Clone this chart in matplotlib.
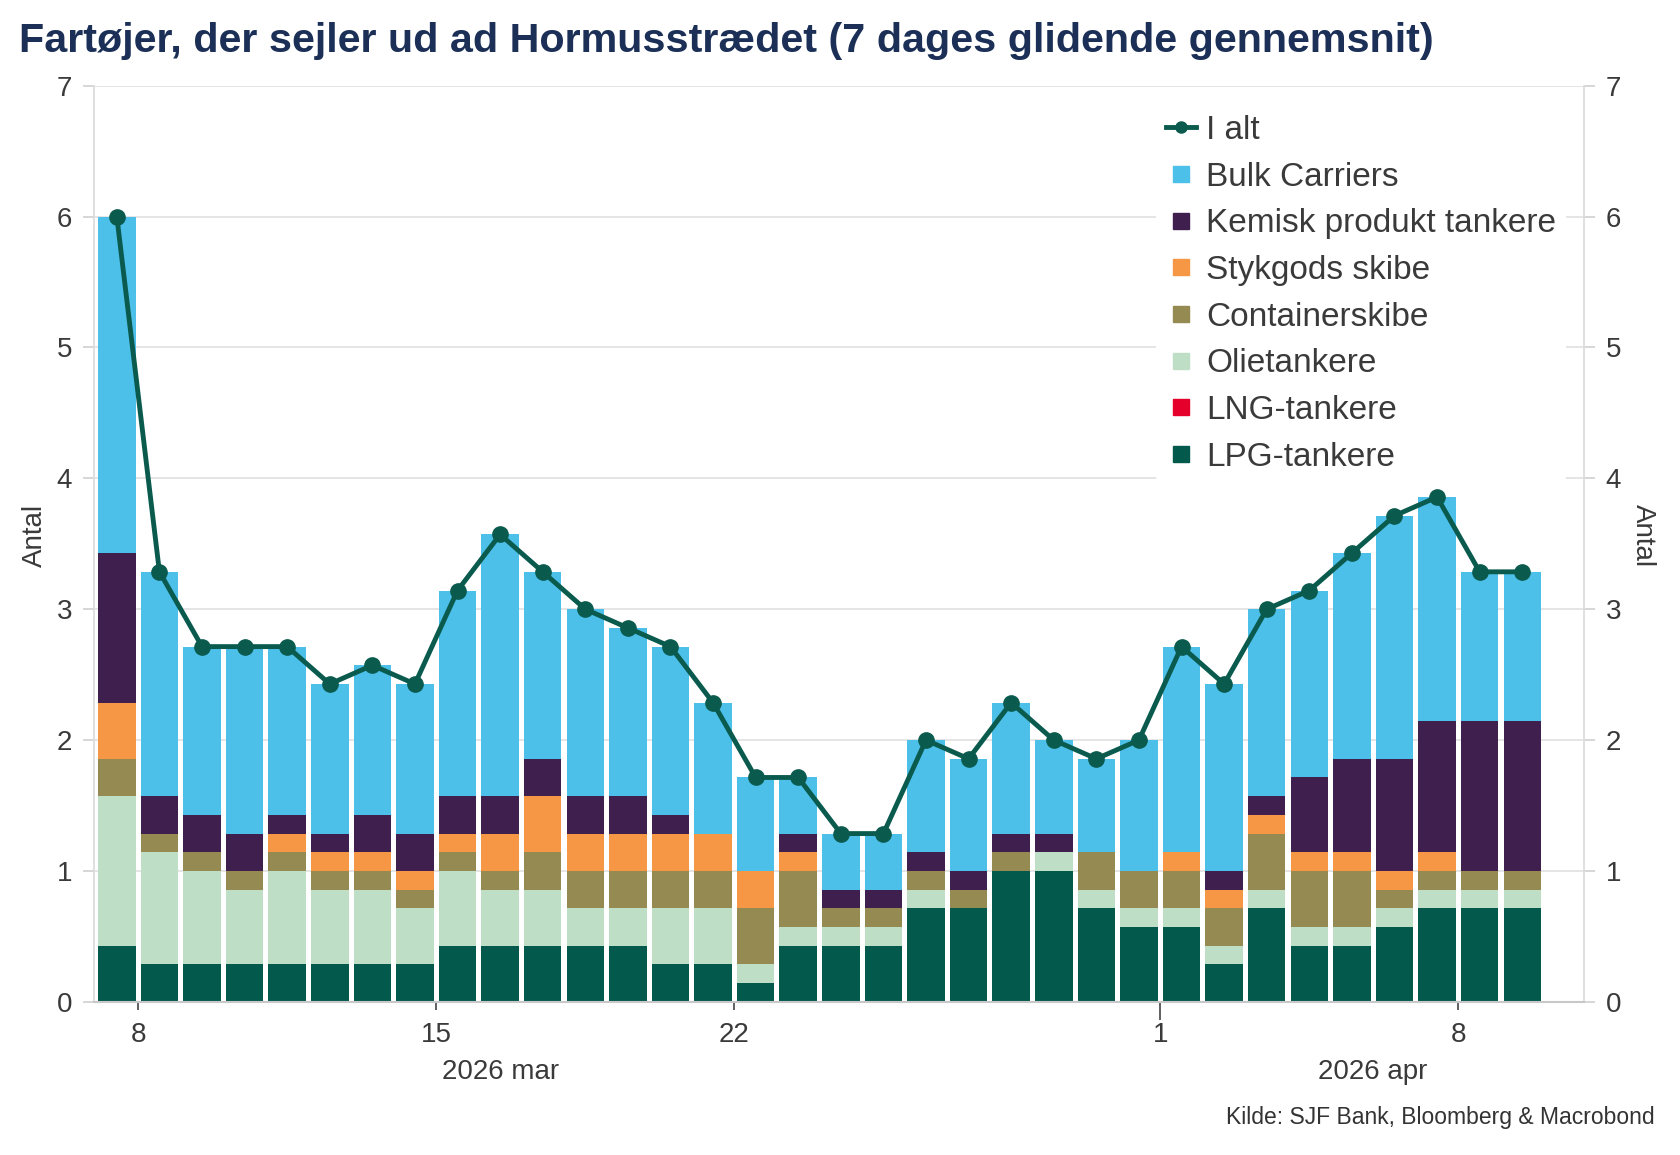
import numpy as np
import pandas as pd
import matplotlib
matplotlib.use("Agg")
import matplotlib.pyplot as plt
import matplotlib.dates as mdates
from matplotlib.lines import Line2D
from matplotlib.transforms import blended_transform_factory

plt.rcParams['font.family'] = ['Liberation Sans', 'DejaVu Sans']

# ---- data: 7-day sums of vessels (divided by 7 below -> 7-day average) ----
dates = pd.date_range("2026-03-07", "2026-04-09", freq="D")
lpg = [3, 2, 2, 2, 2, 2, 2, 2, 3, 3, 3, 3, 3, 2, 2, 1, 3, 3, 3, 5, 5, 7, 7, 5, 4, 4, 2, 5, 3, 3, 4, 5, 5, 5]
lng = [0] * 34
olie = [8, 6, 5, 4, 5, 4, 4, 3, 4, 3, 3, 2, 2, 3, 3, 1, 1, 1, 1, 1, 0, 0, 1, 1, 1, 1, 1, 1, 1, 1, 1, 1, 1, 1]
container = [2, 1, 1, 1, 1, 1, 1, 1, 1, 1, 2, 2, 2, 2, 2, 3, 3, 1, 1, 1, 1, 1, 0, 2, 2, 2, 2, 3, 3, 3, 1, 1, 1, 1]
stykgods = [3, 0, 0, 0, 1, 1, 1, 1, 1, 2, 3, 2, 2, 2, 2, 2, 1, 0, 0, 0, 0, 0, 0, 0, 0, 1, 1, 1, 1, 1, 1, 1, 0, 0]
kemisk = [8, 2, 2, 2, 1, 1, 2, 2, 2, 2, 2, 2, 2, 1, 0, 0, 1, 1, 1, 1, 1, 1, 1, 0, 0, 0, 1, 1, 4, 5, 6, 7, 8, 8]
bulk = [18, 12, 9, 10, 9, 8, 8, 8, 11, 14, 10, 10, 9, 9, 7, 5, 3, 3, 3, 6, 6, 7, 5, 5, 7, 11, 10, 10, 10, 11, 13, 12, 8, 8]
i_alt = [42, 23, 19, 19, 19, 17, 18, 17, 22, 25, 23, 21, 20, 19, 16, 12, 12, 9, 9, 14, 13, 16, 14, 13, 14, 19, 17, 21, 22, 24, 26, 27, 23, 23]

series_names = ["LPG-tankere", "LNG-tankere", "Olietankere", "Containerskibe",
                "Stykgods skibe", "Kemisk produkt tankere", "Bulk Carriers"]
series_vals = [lpg, lng, olie, container, stykgods, kemisk, bulk]
series_cols = ["#03594c", "#e4002b", "#bfdec6", "#958a52", "#f59744", "#3f1f4e", "#4dc0ea"]
line_col = "#0a5b4e"

tick_dates = ["2026-03-08", "2026-03-15", "2026-03-22", "2026-04-01", "2026-04-08"]
tick_labels = ["8", "15", "22", "1", "8"]
month_labels = ["2026 mar", "2026 apr"]
month_pos = ["2026-03-16 12:00", "2026-04-06"]

TXT = '#3a3a3a'

# ---- figure ----
fig = plt.figure(figsize=(16.8, 11.55), dpi=100)
ax = fig.add_axes([0.0561, 0.1326, 0.9426 - 0.0561, 0.9258 - 0.1326])

x = mdates.date2num(dates) + 0.5
bottom = np.zeros(len(x))
for name, vals, col in zip(series_names, series_vals, series_cols):
    v = np.array(vals, dtype=float) / 7.0
    ax.bar(x, v, width=0.88, bottom=bottom, color=col, linewidth=0, zorder=2)
    bottom += v

ax.plot(x, np.array(i_alt) / 7.0, color=line_col, lw=3.5, marker='o', ms=11, zorder=4)

ax.set_ylim(0, 7)
ax.set_xlim(mdates.date2num(pd.Timestamp("2026-03-07")) - 0.03,
            mdates.date2num(pd.Timestamp("2026-04-10")) + 0.94)
ax.set_yticks(range(0, 8))
ax.grid(axis='y', color='#e3e3e3', lw=1.3)
ax.set_axisbelow(True)

ax.spines['top'].set_visible(False)
for s in ['left', 'right']:
    ax.spines[s].set_color('#dcdcdc')
    ax.spines[s].set_linewidth(1.3)
ax.spines['bottom'].set_color('#c8c8c8')
ax.spines['bottom'].set_linewidth(1.5)

ax.yaxis.set_ticks_position('both')
ax.tick_params(axis='y', which='both', left=True, right=True, labelleft=True, labelright=True,
               length=8, width=1.2, color='#d0d0d0', labelsize=20, labelcolor=TXT, pad=8)

ax.set_xticks(mdates.date2num(pd.to_datetime(tick_dates)))
ax.set_xticklabels(tick_labels)
ax.tick_params(axis='x', length=6, width=1.2, color='#444444', labelsize=20,
               labelcolor=TXT, pad=8.5)
xt = ax.xaxis.get_major_ticks()
xt[3].tick1line.set_markersize(13)

trans = blended_transform_factory(ax.transData, ax.transAxes)
for lab, pos in zip(month_labels, month_pos):
    ax.text(mdates.date2num(pd.Timestamp(pos)), -0.077, lab, transform=trans,
            ha='center', va='center', fontsize=20, color=TXT)

fig.text(0.021, 0.536, "Antal", rotation=90, fontsize=20, color=TXT, ha='center', va='center')
fig.text(0.978, 0.536, "Antal", rotation=270, fontsize=20, color=TXT, ha='center', va='center')

# legend
handles = [Line2D([0], [0], color=line_col, lw=3.5, marker='o', ms=8)]
labels = ["I alt"]
for name, col in reversed(list(zip(series_names, series_cols))):
    handles.append(Line2D([0], [0], ls='none', marker='s', ms=11, color=col))
    labels.append(name)
leg = ax.legend(handles, labels, loc='upper left', bbox_to_anchor=(0.713, 0.979),
                fontsize=24, frameon=True, facecolor='white', edgecolor='none', framealpha=1,
                handlelength=0.9, handletextpad=0.3, labelspacing=0.47, borderpad=0.3,
                borderaxespad=0)
for t in leg.get_texts():
    t.set_color(TXT)
leg.set_zorder(5)

fig.text(0.0113, 0.9645, "Fartøjer, der sejler ud ad Hormusstrædet (7 dages glidende gennemsnit)",
         fontsize=29.7, fontweight='bold', color='#1b2f57', ha='left', va='center')
fig.text(0.985, 0.0325, "Kilde: SJF Bank, Bloomberg & Macrobond", fontsize=16.5,
         color='#333333', ha='right', va='center')

fig.savefig("out.png", dpi=100)
